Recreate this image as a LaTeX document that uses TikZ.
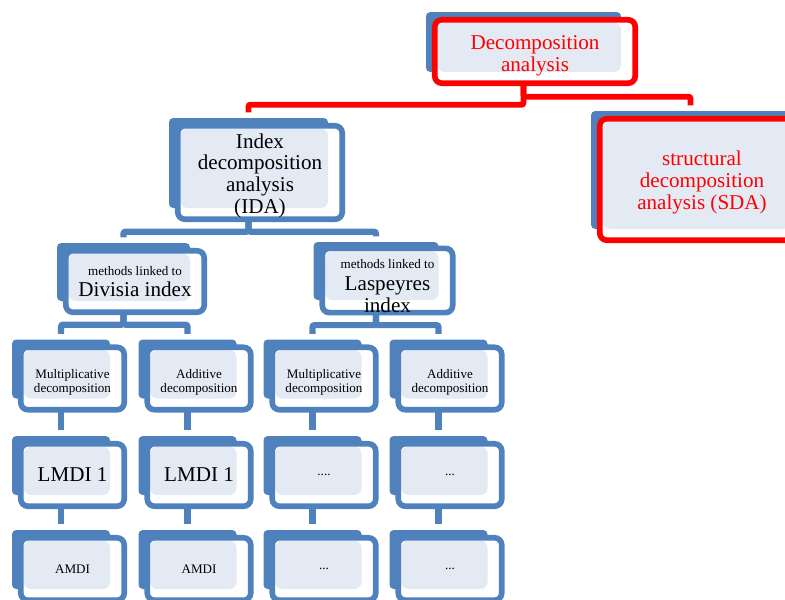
\documentclass[tikz,border=0pt]{standalone}
\usepackage{fontspec}
\setmainfont{Liberation Serif}
\usetikzlibrary{positioning,calc}
\definecolor{smblue}{HTML}{4F81BD}
\definecolor{smred}{HTML}{FF0000}
\definecolor{dotfill}{HTML}{E4EAF4}
\newcommand{\bigfont}{\fontsize{15}{15.5}\selectfont}
\newcommand{\smallfont}{\fontsize{9.3}{9.8}\selectfont}
\newcommand{\firststrut}[1]{\rule{0pt}{#1}}
\tikzset{
  backbox/.style 2 args={fill=smblue,rounded corners=3pt,inner sep=0pt,
               outer sep=0pt,minimum width={(#1-11)*0.025cm},
               minimum height={(#2-9)*0.025cm}},
  frontbox/.style n args={3}{draw=smblue,fill=white,line width=4pt,
               rounded corners=5pt,inner sep=0pt,outer sep=0pt,align=center,
               font=\bigfont,minimum width={(#2-5.6)*0.025cm},
               minimum height={(#3-5.6)*0.025cm},
               path picture={\fill[dotfill]
                 ($(path picture bounding box.north west)+(2pt,-2pt)$)
                 rectangle (#1.south east);}},
  redfront/.style n args={3}{frontbox={#1}{#2}{#3},draw=smred,text=smred},
  bluelink/.style={draw=smblue,line width=4.4pt,rounded corners=1.5pt,
                   shorten >=4pt},
  redlink/.style={draw=smred,line width=4.2pt,rounded corners=1.5pt,
                  shorten >=4pt}
}

\begin{document}
\begin{tikzpicture}[x=0.025cm,y=-0.025cm]
  \path[use as bounding box] (0,0) rectangle (785,600);
  \clip (0,0) rectangle (785,600);

  % top level
  \node[backbox={206}{69}] (top) at (523.5,42) {};
  \node[redfront={top}{206}{69}] (top-F) at ($(top)+(11.5,9.5)$)
    {\firststrut{16pt}Decomposition\\analysis};

  \node[backbox={170}{99}] (ida) at (248.5,163) {};
  \node[frontbox={ida}{170}{99}] (ida-F) at ($(ida)+(11.5,9.5)$)
    {\firststrut{15pt}Index\\decomposition\\analysis\\(IDA)};

  \node[backbox={210}{127}] (sda) at (690.5,170) {};
  \node[redfront={sda}{210}{127}] (sda-F) at ($(sda)+(11.5,9.5)$)
    {\firststrut{15pt}structural\\decomposition\\analysis (SDA)};

  % methods
  \node[backbox={144}{67}] (div) at (123.5,272) {};
  \node[frontbox={div}{144}{67}] (div-F) at ($(div)+(11.5,9.5)$)
    {{\smallfont methods linked to}\\Divisia index};

  \node[backbox={136}{67}] (lasp) at (376,271) {};
  \node[frontbox={lasp}{136}{67}] (lasp-F) at ($(lasp)+(11.5,9.5)$)
    {{\smallfont\firststrut{14.5pt}methods linked to}\\Laspeyres\\index};

  % leaves
  \foreach \y/\row in {369/1,465.5/2,559.5/3}{
    \foreach \x/\col in {61/1,187.5/2,312.5/3,438.5/4}{
      \node[backbox={109}{68}] (leaf\row\col) at (\x,\y) {};
    }
  }
  \foreach \nm/\txt in {
      leaf11/{\firststrut{12pt}Multiplicative\\decomposition},
      leaf12/{\firststrut{12pt}Additive\\decomposition},
      leaf13/{\firststrut{12pt}Multiplicative\\decomposition},
      leaf14/{\firststrut{12pt}Additive\\decomposition},
      leaf21/{\bigfont LMDI 1}, leaf22/{\bigfont LMDI 1},
      leaf23/{....}, leaf24/{...},
      leaf31/{AMDI}, leaf32/{AMDI},
      leaf33/{...}, leaf34/{...}}{
    \node[frontbox={\nm}{109}{68},font=\smallfont] (\nm-F)
      at ($(\nm)+(11.5,9.5)$) {\txt};
  }

  % connectors
  \draw[redlink] (top |- top-F.south) -- ++(0,21.5) -| (ida.north);
  \draw[redlink] (top |- top-F.south) -- ++(0,13.5) -| (sda.north);
  \draw[bluelink] (ida |- ida-F.south) -- ++(0,12.5) -| (div.north);
  \draw[bluelink] (ida |- ida-F.south) -- ++(0,12.5) -| (lasp.north);
  \foreach \a/\b in {div/leaf11,div/leaf12,lasp/leaf13,lasp/leaf14}{
    \draw[bluelink] (\a |- \a-F.south) -- ++(0,12.5) -| (\b.north);
  }
  \foreach \a/\b in {leaf11/leaf21,leaf12/leaf22,leaf13/leaf23,leaf14/leaf24,
                     leaf21/leaf31,leaf22/leaf32,leaf23/leaf33,leaf24/leaf34}{
    \draw[bluelink] (\a |- \a-F.south) -- (\b.north);
  }
\end{tikzpicture}
\end{document}
